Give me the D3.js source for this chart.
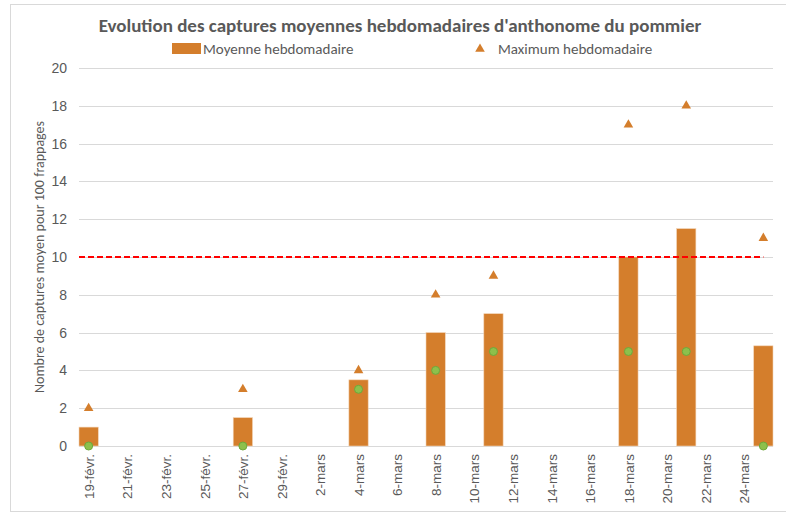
<!DOCTYPE html>
<html>
<head>
<meta charset="utf-8">
<script src="https://cdn.jsdelivr.net/npm/d3@7"></script>
<style>
  body { margin: 0; background: #fff; }
  svg { font-family: Carlito, Lato, "Liberation Sans", sans-serif; }
</style>
</head>
<body>
<svg id="chart" width="786" height="513"></svg>
<script>
// sampling dates and values
var dates = ["2024-02-19", "2024-02-27", "2024-03-04", "2024-03-08", "2024-03-11", "2024-03-18", "2024-03-21", "2024-03-25"];
var moyenne = [1, 1.5, 3.5, 6, 7, 10, 11.5, 5.3];
var maximum = [2, 3, 4, 8, 9, 17, 18, 11];
var minimum = [0, 0, 3, 4, 5, 5, 5, 0];
var seuil = 10;
var yTicks = [0, 2, 4, 6, 8, 10, 12, 14, 16, 18, 20];

var parse = d3.timeParse("%Y-%m-%d");
var moisFr = ["janv.", "févr.", "mars", "avr.", "mai", "juin", "juil.", "août", "sept.", "oct.", "nov.", "déc."];
function fmt(d) { return d.getDate() + "-" + moisFr[d.getMonth()]; }

var data = dates.map(function(d, i) {
  return { date: parse(d), moy: moyenne[i], max: maximum[i], min: minimum[i] };
});

var svg = d3.select("#chart");
var margin = {left: 79, right: 13, top: 68, bottom: 67};
var W = 786, H = 513;

// chart frame
svg.append("rect")
    .attr("x", 10.5).attr("y", 4.5)
    .attr("width", 790).attr("height", 507)
    .attr("fill", "none").attr("stroke", "#d9d9d9");

var x = d3.scaleTime()
    .domain([d3.timeHour.offset(parse("2024-02-18"), 12), d3.timeHour.offset(parse("2024-03-25"), 12)])
    .range([margin.left, W - margin.right]);
var y = d3.scaleLinear()
    .domain([0, 20])
    .range([H - margin.bottom, margin.top]);

// gridlines
svg.append("g").selectAll("line")
    .data(yTicks).enter().append("line")
    .attr("x1", margin.left).attr("x2", W - margin.right)
    .attr("y1", function(d) { return Math.round(y(d)) + 0.5; })
    .attr("y2", function(d) { return Math.round(y(d)) + 0.5; })
    .attr("stroke", "#d9d9d9").attr("stroke-width", 1);

// y axis
var yAxis = svg.append("g")
    .attr("transform", "translate(" + (margin.left - 12) + ",0)")
    .call(d3.axisLeft(y).tickValues(yTicks).tickSize(0).tickPadding(0));
yAxis.select(".domain").remove();
yAxis.selectAll("text").attr("fill", "#595959").style("font-size", "14px");

// x axis, every 2 days
var xTicks = d3.timeDay.range(parse("2024-02-19"), parse("2024-03-26"), 2);
var xAxis = svg.append("g")
    .attr("transform", "translate(0," + (H - margin.bottom) + ")")
    .call(d3.axisBottom(x).tickValues(xTicks).tickFormat(fmt).tickSize(0));
xAxis.select(".domain").remove();
xAxis.selectAll("text")
    .attr("fill", "#595959")
    .style("font-size", "13.5px")
    .style("text-anchor", "end")
    .attr("dx", "-8px")
    .attr("dy", "0.35em")
    .attr("transform", "rotate(-90)")
    .attr("y", 0)
    .attr("x", 0);

// bars
var bw = x(parse("2024-02-20")) - x(parse("2024-02-19"));
svg.append("g").selectAll("rect")
    .data(data).enter().append("rect")
    .attr("x", function(d) { return x(d.date) - bw / 2; })
    .attr("width", bw)
    .attr("y", function(d) { return y(d.moy); })
    .attr("height", function(d) { return y(0) - y(d.moy); })
    .attr("fill", "#d47e2c")
    .attr("stroke", "#f2d3b5").attr("stroke-width", 0.6);

// threshold line
svg.append("line")
    .attr("x1", margin.left).attr("x2", x(parse("2024-03-25")))
    .attr("y1", y(seuil)).attr("y2", y(seuil))
    .attr("stroke", "#ff0000").attr("stroke-width", 2)
    .attr("stroke-dasharray", "6,3");

// maximum triangles
var tri = d3.symbol().type(d3.symbolTriangle).size(40);
svg.append("g").selectAll("path")
    .data(data).enter().append("path")
    .attr("d", tri)
    .attr("transform", function(d) { return "translate(" + x(d.date) + "," + y(d.max) + ")"; })
    .attr("fill", "#d47e2c");

// minimum dots
svg.append("g").selectAll("circle")
    .data(data).enter().append("circle")
    .attr("cx", function(d) { return x(d.date); })
    .attr("cy", function(d) { return y(d.min); })
    .attr("r", 4)
    .attr("fill", "#8dc04c")
    .attr("stroke", "#6fa83a").attr("stroke-width", 1);

// title
svg.append("text")
    .attr("x", 400).attr("y", 32)
    .attr("text-anchor", "middle")
    .attr("fill", "#595959")
    .style("font-size", "19px").style("font-weight", "bold")
    .text("Evolution des captures moyennes hebdomadaires d'anthonome du pommier");

// legend
svg.append("rect")
    .attr("x", 172).attr("y", 43).attr("width", 29).attr("height", 11)
    .attr("fill", "#d47e2c");
svg.append("text")
    .attr("x", 203).attr("y", 54)
    .attr("fill", "#595959").style("font-size", "15px")
    .text("Moyenne hebdomadaire");
svg.append("path")
    .attr("d", tri)
    .attr("transform", "translate(480,49)")
    .attr("fill", "#d47e2c");
svg.append("text")
    .attr("x", 498).attr("y", 54)
    .attr("fill", "#595959").style("font-size", "15px")
    .text("Maximum hebdomadaire");

// y axis title
svg.append("text")
    .attr("transform", "translate(44," + ((margin.top + H - margin.bottom) / 2) + ") rotate(-90)")
    .attr("text-anchor", "middle")
    .attr("fill", "#595959").style("font-size", "14px")
    .text("Nombre de captures moyen pour 100 frappages");
</script>
</body>
</html>
